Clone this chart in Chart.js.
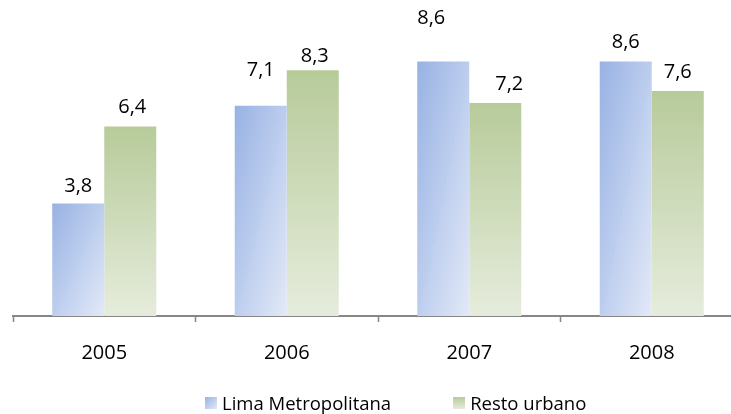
<!DOCTYPE html>
<html>
<head>
<meta charset="utf-8">
<script src="https://cdn.jsdelivr.net/npm/chart.js@4.4.1/dist/chart.umd.min.js"></script>
<style>
    html, body { margin: 0; padding: 0; background: #fff; overflow: hidden; }
    #wrap { position: relative; width: 745px; height: 414px; }
    #legend { position: absolute; left: 205px; top: 390px; display: flex; align-items: center;
              font-family: 'Open Sans', sans-serif; font-size: 18.5px; color: #000; }
    .item { display: flex; align-items: center; margin-right: 62px; }
    .box { width: 12px; height: 12px; margin-right: 5px; }
    .lima { background: linear-gradient(to bottom right, #98b2e3, #e3e9f7); }
    .resto { background: linear-gradient(to bottom, #b7cb9a, #e6ecdc); }
</style>
</head>
<body>
<div id="wrap">
    <canvas id="plot" width="745" height="414"></canvas>
    <div id="legend">
        <div class="item"><span class="box lima"></span><span>Lima Metropolitana</span></div>
        <div class="item"><span class="box resto"></span><span>Resto urbano</span></div>
    </div>
</div>
<script>
const years = ['2005', '2006', '2007', '2008']
const lima = [3.8, 7.1, 8.6, 8.6]
const resto = [6.4, 8.3, 7.2, 7.6]
const seriesNames = ['Lima Metropolitana', 'Resto urbano']

const groupShare = 0.57

// manual nudges of the value labels, [dx, dy] from the bar top
const labelNudge = [
    [[0, -17], [0, -36], [-12, -43], [0, -19]],
    [[2, -19], [2, -14], [14, -19], [0, -19]]
]

function barGradient(context) {
    const chart = context.chart
    if (!chart.chartArea) return null
    const xs = chart.scales.x
    const ys = chart.scales.y
    const ctx = chart.ctx
    const barW = xs.width / years.length * groupShare / 2
    const left = xs.getPixelForValue(context.dataIndex) - barW + context.datasetIndex * barW
    const top = ys.getPixelForValue(context.raw)
    const bottom = ys.getPixelForValue(0)
    const h = bottom - top
    let g
    if (context.datasetIndex === 0) {
        // diagonal gradient, isolines parallel to the bottom-left / top-right diagonal
        const k = 2 * barW * h / (h * h + barW * barW)
        g = ctx.createLinearGradient(left, top, left + h * k, top + barW * k)
        g.addColorStop(0, '#98b2e3')
        g.addColorStop(0.497, '#bccdee')
        g.addColorStop(0.5, '#b3c5ea')
        g.addColorStop(0.503, '#bdceee')
        g.addColorStop(1, '#e3e9f7')
    } else {
        g = ctx.createLinearGradient(0, top, 0, bottom)
        g.addColorStop(0, '#b7cb9a')
        g.addColorStop(1, '#e6ecdc')
    }
    return g
}

const valueLabels = {
    id: 'valueLabels',
    afterDatasetsDraw(chart) {
        const ctx = chart.ctx
        ctx.save()
        ctx.font = "20px 'Open Sans'"
        ctx.fillStyle = '#000'
        ctx.textAlign = 'center'
        ctx.textBaseline = 'middle'
        chart.data.datasets.forEach((ds, d) => {
            chart.getDatasetMeta(d).data.forEach((bar, i) => {
                const n = labelNudge[d][i]
                ctx.fillText(ds.data[i].toFixed(1).replace('.', ','), bar.x + n[0], bar.y + n[1])
            })
        })
        ctx.restore()
    }
}

Chart.defaults.font.family = "'Open Sans', sans-serif"

const chart = new Chart(document.getElementById('plot'), {
    type: 'bar',
    data: {
        labels: years,
        datasets: [
            { label: seriesNames[0], data: lima, backgroundColor: barGradient },
            { label: seriesNames[1], data: resto, backgroundColor: barGradient }
        ]
    },
    options: {
        responsive: false,
        animation: false,
        events: [],
        layout: { padding: { left: 13, right: 2, top: 20, bottom: 30 } },
        datasets: { bar: { barPercentage: 1, categoryPercentage: groupShare, borderWidth: 0 } },
        plugins: {
            legend: { display: false },
            tooltip: { enabled: false }
        },
        scales: {
            x: {
                offset: true,
                grid: { offset: true, drawOnChartArea: false, tickLength: 6, tickColor: '#868686', tickWidth: 1.5 },
                border: { display: true, color: '#868686', width: 2 },
                ticks: { color: '#000', padding: 19, font: { size: 20 } }
            },
            y: {
                display: false,
                min: 0,
                max: 10
            }
        }
    },
    plugins: [valueLabels]
})
</script>
</body>
</html>
